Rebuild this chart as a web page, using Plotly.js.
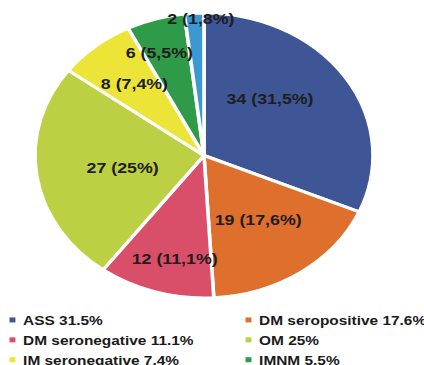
<!DOCTYPE html>
<html>
<head>
<meta charset="utf-8">
<script src="https://cdn.plot.ly/plotly-3.0.1.min.js"></script>
<style>
  html, body { margin: 0; padding: 0; background: #ffffff; overflow: hidden; }
  #wrap { width: 424px; height: 365px; overflow: hidden; position: relative; }
  /* the chart is drawn narrower and widened horizontally */
  #chart { width: 500px; height: 400px; transform: scaleX(1.186); transform-origin: 0 0; }
</style>
</head>
<body>
<div id="wrap"><div id="chart"></div></div>
<script>
// Patient groups, counts and the shares printed on the chart
const groups = ['ASS', 'DM seropositive', 'DM seronegative', 'OM', 'IM seronegative', 'IMNM', 'Other'];
const counts = [34, 19, 12, 27, 8, 6, 2];
const shares = [31.5, 17.6, 11.1, 25, 7.4, 5.5, 1.8];
const colors = ['#3e5596', '#de6f2d', '#d94e68', '#bdd044', '#ece537', '#2f9a48', '#3a99d2'];

// where each slice label sits: turn away from the slice bisector (deg) and radius fraction
const labelTurn = [-12.7, -0.8, -3.2, -1.6, 0.7, -3.3, 2.3];
const labelRadius = [0.56, 0.55, 0.74, 0.49, 0.65, 0.77, 0.96];

const W = 500, H = 400;
// pie centre and radius in px
const pieCx = 172, pieCy = 155.5, pieR = 142.5;
const pieDomain = {
  x: [(pieCx - pieR) / W, (pieCx + pieR) / W],
  y: [1 - (pieCy + pieR) / H, 1 - (pieCy - pieR) / H]
};

const legendLabels = groups.map((g, i) => g + ' ' + shares[i] + '%');
const shareText = shares.map(s => String(s).replace('.', ','));

const trace = {
  type: 'pie',
  labels: legendLabels,
  values: counts,
  textinfo: 'none',
  sort: false,
  direction: 'clockwise',
  rotation: 0,
  marker: { colors: colors, line: { color: '#ffffff', width: 3 } },
  domain: pieDomain,
  hoverinfo: 'none'
};

// slice labels, placed from the cumulative counts
const total = counts.reduce((a, b) => a + b, 0);
let cum = 0;
const annotations = counts.map((v, i) => {
  const mid = (cum + v / 2) / total * 360 + labelTurn[i];
  cum += v;
  const a = mid * Math.PI / 180;
  const r = labelRadius[i] * pieR;
  return {
    xref: 'paper', yref: 'paper',
    x: (pieCx + r * Math.sin(a)) / W,
    y: 1 - (pieCy - r * Math.cos(a)) / H,
    xanchor: 'center', yanchor: 'middle',
    text: v + ' (' + shareText[i] + '%)',
    showarrow: false,
    font: { family: 'Liberation Sans, Arial, sans-serif', size: 15, color: '#1e1e1e', weight: 'bold' }
  };
});

const layout = {
  width: W,
  height: H,
  margin: { l: 0, r: 0, t: 0, b: 0 },
  paper_bgcolor: '#ffffff',
  showlegend: true,
  annotations: annotations,
  legend: {
    orientation: 'h',
    x: 0,
    xanchor: 'left',
    y: 1 - 305 / H,
    yanchor: 'top',
    entrywidth: 154,
    entrywidthmode: 'pixels',
    traceorder: 'normal',
    font: { family: 'Liberation Sans, Arial, sans-serif', size: 13, color: '#1a1a1a', weight: 'bold' },
    bgcolor: 'rgba(0,0,0,0)'
  }
};

Plotly.newPlot('chart', [trace], layout, { displayModeBar: false, staticPlot: true }).then(() => {
  // small square legend keys, text set close to them
  document.querySelectorAll('#chart .legendpie').forEach(p => {
    p.setAttribute('d', 'M2.5,2.5H-2.5V-2.5H2.5Z');
    p.setAttribute('transform', 'translate(10.5,0)');
    p.style.strokeWidth = '0';
  });
  document.querySelectorAll('#chart .legendtext').forEach(t => t.setAttribute('x', '19.5'));
});
</script>
</body>
</html>
